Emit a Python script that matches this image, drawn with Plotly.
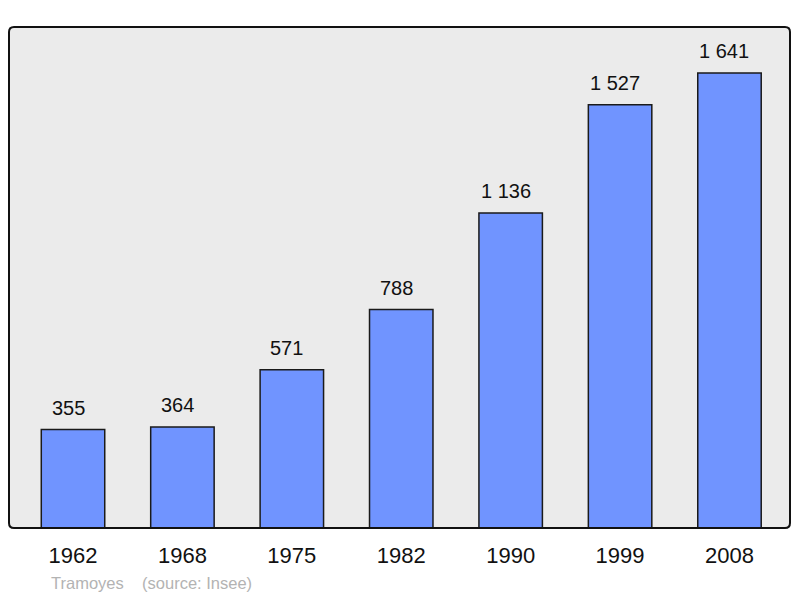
import plotly.graph_objects as go

years = ["1962", "1968", "1975", "1982", "1990", "1999", "2008"]
population = [355, 364, 571, 788, 1136, 1527, 1641]
labels = ["355", "364", "571", "788", "1 136", "1 527", "1 641"]

FONT = "Liberation Sans, Arial, sans-serif"
fig = go.Figure()
fig.add_trace(go.Bar(
    x=years, y=population, width=0.58,
    marker=dict(color="#7094ff", line=dict(color="#1a1a1a", width=1.5)),
    hoverinfo="skip",
))
for i, (v, t) in enumerate(zip(population, labels)):
    fig.add_annotation(x=i, y=v, xref="x", yref="y", text=t, showarrow=False,
                       yanchor="bottom", yshift=9, xshift=-5,
                       font=dict(family=FONT, size=20, color="#111"))

# Rounded frame
W, H = 781.0, 501.0
rx, ry = 5 / W, 5 / H
path = (f"M {rx},0 L {1-rx},0 Q 1,0 1,{ry} L 1,{1-ry} Q 1,1 {1-rx},1 "
        f"L {rx},1 Q 0,1 0,{1-ry} L 0,{ry} Q 0,0 {rx},0 Z")
fig.add_shape(type="path", path=path, xref="paper", yref="paper",
              line=dict(color="#111", width=2), layer="above")

fig.add_annotation(xref="paper", yref="paper", x=(49 - 9) / W, y=-(583 - 528) / H,
                   xanchor="left", yanchor="middle", showarrow=False,
                   text="Tramoyes&nbsp;&nbsp;&nbsp;&nbsp;(source: Insee)",
                   font=dict(family=FONT, size=16.5, color="#b3b3b3"))

# page has an 8px body margin; compensate
fig.update_layout(
    width=792, height=590,
    margin=dict(l=1, r=10, t=19, b=70),
    paper_bgcolor="white", plot_bgcolor="#ebebeb",
    showlegend=False,
    xaxis=dict(type="category", range=[-0.585, 6.553], showgrid=False, zeroline=False,
               ticks="outside", ticklen=8, tickcolor="rgba(0,0,0,0)",
               tickfont=dict(family=FONT, size=22, color="#111"), fixedrange=True),
    yaxis=dict(range=[0, 1807], showgrid=False, zeroline=False, showticklabels=False, fixedrange=True),
)
fig.write_html("out.html")
